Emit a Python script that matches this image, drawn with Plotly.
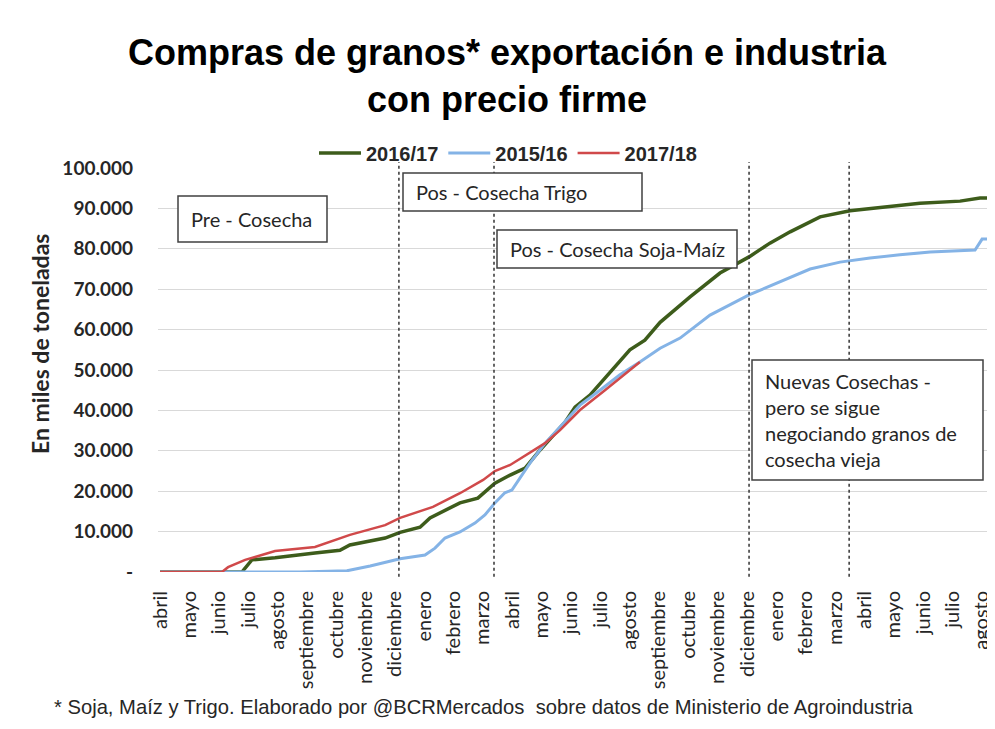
import plotly.graph_objects as go

# ---- Data (x = month position, 0 = abril of first season) ----
month_labels = ["abril", "mayo", "junio", "julio", "agosto", "septiembre", "octubre",
                "noviembre", "diciembre", "enero", "febrero", "marzo",
                "abril", "mayo", "junio", "julio", "agosto", "septiembre", "octubre",
                "noviembre", "diciembre", "enero", "febrero", "marzo",
                "abril", "mayo", "junio", "julio", "agosto"]

x_1617 = [0, 2.6, 2.79, 3.13, 3.92, 5.28, 6.13, 6.47, 7.67, 8.18, 8.86, 9.20, 10.22, 10.83,
          11.41, 11.93, 12.44, 12.95, 13.80, 14.14, 14.65, 15.16, 16.01, 16.52, 17.04, 18.06,
          19.08, 20.07, 20.78, 21.47, 22.49, 23.51, 24.53, 25.89, 27.26, 27.94, 28.28]
y_1617 = [0, 0, 0, 3000, 3500, 4700, 5400, 6700, 8400, 9800, 11100, 13400, 17100, 18300,
          22000, 24000, 25700, 30200, 37100, 40800, 43800, 48000, 55000, 57400, 61800, 68100,
          74000, 78000, 81400, 84200, 87900, 89400, 90300, 91300, 91800, 92600, 92600]

x_1516 = [0, 4.77, 6.37, 7.16, 8.18, 9.03, 9.37, 9.71, 10.22, 10.73, 11.07, 11.41, 11.75,
          11.99, 12.61, 13.12, 13.63, 14.31, 14.99, 15.67, 16.35, 17.04, 17.72, 18.74, 20.07,
          21.12, 22.15, 23.17, 24.19, 25.21, 26.24, 27.77, 28.01, 28.28]
y_1516 = [0, 0, 300, 1500, 3300, 4200, 5900, 8400, 9900, 12100, 14100, 17100, 19600,
          20300, 27000, 31900, 35900, 41300, 45000, 48800, 52000, 55400, 57900, 63600, 68600,
          71800, 75000, 76700, 77700, 78500, 79200, 79700, 82400, 82400]

x_1718 = [0, 2.11, 2.32, 2.90, 3.24, 3.92, 5.28, 6.47, 7.67, 8.18, 9.30, 10.22, 11.01,
          11.41, 11.93, 12.61, 13.12, 13.63, 14.31, 15.16, 16.35]
y_1718 = [0, 0, 1200, 3000, 3700, 5200, 6200, 9200, 11600, 13400, 16100, 19500, 22800,
          25000, 26500, 29700, 31900, 35100, 40100, 45000, 52000]

y_tickvals = [0, 10000, 20000, 30000, 40000, 50000, 60000, 70000, 80000, 90000, 100000]
y_ticktext = ["-", "10.000", "20.000", "30.000", "40.000", "50.000", "60.000",
              "70.000", "80.000", "90.000", "100.000"]

phase_lines = [8.14, 11.38, 20.07, 23.48]

# ---- Layout geometry ----
# The page body has an 8px margin, so figure pixel = screen pixel - 8.
OFF = 8
W, H = 987, 713
SCR_PL, SCR_PT, SCR_PB, SCR_PR = 158, 168, 572, 992
PL, PT, PB, PR = SCR_PL - OFF, SCR_PT - OFF, SCR_PB - OFF, SCR_PR - OFF
MONTH_PX = 29.35
X0_SCR = 160  # screen x of month 0


def px(xs):
    """screen x -> paper fraction"""
    return (xs - OFF - PL) / (PR - PL)


def py(ys):
    """screen y -> paper fraction"""
    return (PB - (ys - OFF)) / (PB - PT)


BODY = "Lato, 'Open Sans', sans-serif"
NARROW = "'Liberation Sans Narrow', 'Liberation Sans', sans-serif"

fig = go.Figure()
fig.add_trace(go.Scatter(x=x_1617, y=y_1617, mode="lines", name="<b>2016/17</b>",
                         line=dict(color="#3d5c1b", width=3.5)))
fig.add_trace(go.Scatter(x=x_1516, y=y_1516, mode="lines", name="<b>2015/16</b>",
                         line=dict(color="#84b3e6", width=3)))
fig.add_trace(go.Scatter(x=x_1718, y=y_1718, mode="lines", name="<b>2017/18</b>",
                         line=dict(color="#d0494a", width=2.5)))

shapes = []
for xv in phase_lines:
    shapes.append(dict(type="line", xref="x", yref="paper", x0=xv, x1=xv,
                       y0=-0.012, y1=1.015, line=dict(color="#333333", width=1.5, dash="dot"),
                       layer="above"))
shapes.append(dict(type="line", xref="paper", yref="paper", x0=px(4), x1=px(4),
                   y0=py(728), y1=py(8), line=dict(color="#d9d9d9", width=1)))

boxes = [
    ("Pre - Cosecha", 178, 327, 196, 242),
    ("Pos - Cosecha Trigo", 403, 642, 173, 211),
    ("Pos - Cosecha Soja-Maíz", 497, 737, 230, 268),
    ("Nuevas Cosechas -<br>pero se sigue<br>negociando granos de<br>cosecha vieja", 752, 983, 360, 480),
]
annotations = []
for text, x0, x1, y0, y1 in boxes:
    shapes.append(dict(type="rect", xref="paper", yref="paper",
                       x0=px(x0), x1=px(x1), y0=py(y1), y1=py(y0),
                       fillcolor="white", line=dict(color="#404040", width=1.5),
                       layer="above"))
    annotations.append(dict(
        text=text, xref="paper", yref="paper", x=px(x0 + 11), y=py((y0 + y1) / 2),
        xanchor="left", yanchor="middle", showarrow=False, align="left",
        font=dict(family=BODY, size=20, color="#262626")))

annotations.append(dict(
    text="* Soja, Maíz y Trigo. Elaborado por @BCRMercados  sobre datos de Ministerio de Agroindustria",
    xref="paper", yref="paper", x=px(52), y=py(707), xanchor="left", yanchor="middle",
    showarrow=False, font=dict(family=NARROW, size=20.2, color="#262626")))

annotations.append(dict(
    text="<b>En miles de toneladas</b>", textangle=-90,
    xref="paper", yref="paper", x=px(40), y=py(344), xanchor="center", yanchor="middle",
    showarrow=False, font=dict(family=BODY, size=23, color="#262626")))

fig.update_layout(
    width=W, height=H,
    margin=dict(l=PL, r=W - PR, t=PT, b=H - PB, autoexpand=False),
    paper_bgcolor="white", plot_bgcolor="white",
    title=dict(text="<b>Compras de granos* exportación e industria<br>con precio firme</b>",
               x=(507 - OFF) / W, xref="container", xanchor="center",
               y=1 - 57 / H, yref="container", yanchor="middle",
               font=dict(family=NARROW, size=36, color="black")),
    legend=dict(orientation="h", xref="paper", yref="paper", x=px(508), y=py(153),
                xanchor="center", yanchor="middle", bgcolor="rgba(0,0,0,0)",
                font=dict(family=NARROW, size=20, color="#262626"),
                itemwidth=42, traceorder="normal"),
    xaxis=dict(range=[(SCR_PL - X0_SCR) / MONTH_PX, (SCR_PR - X0_SCR) / MONTH_PX],
               automargin=False, ticklabeloverflow="allow",
               tickmode="array", tickvals=list(range(len(month_labels))), ticktext=month_labels,
               tickangle=-90, showgrid=False, zeroline=False,
               showline=False, ticks="", ticklabelstandoff=14,
               tickfont=dict(family=BODY, size=20, color="#262626")),
    yaxis=dict(range=[0, 100000], tickmode="array", tickvals=y_tickvals, ticktext=y_ticktext,
               automargin=False,
               showgrid=True, gridcolor="#d9d9d9", gridwidth=1, zeroline=False,
               showline=False, ticks="", ticklabelstandoff=24,
               tickfont=dict(family=BODY, size=19, color="#262626", weight="bold")),
    shapes=shapes,
    annotations=annotations,
)

fig.write_html("out.html")
